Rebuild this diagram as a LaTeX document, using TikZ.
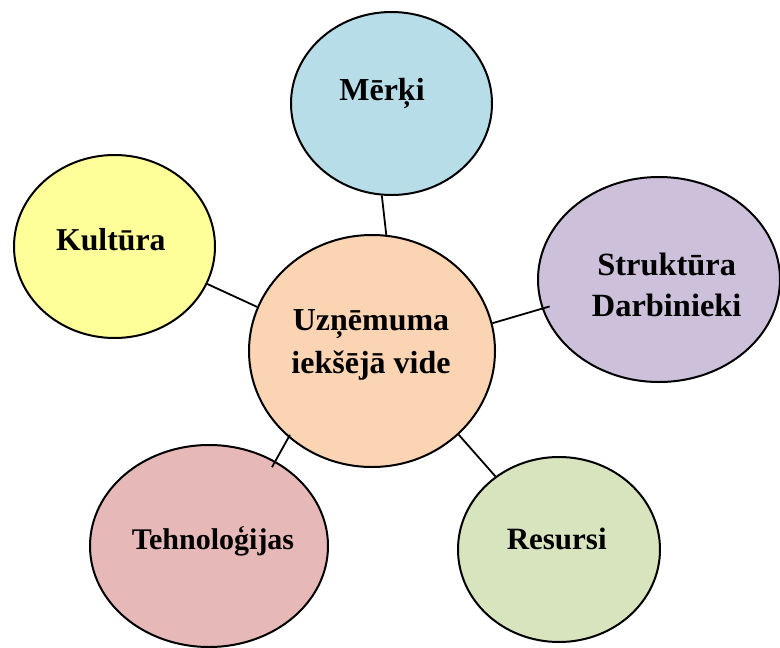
\documentclass[tikz,border=0pt]{standalone}
\usepackage{fontspec}
\setmainfont{Liberation Serif}
\usetikzlibrary{shapes.geometric}
\definecolor{cCenter}{HTML}{FBD4B4}
\definecolor{cMerki}{HTML}{B7DDE8}
\definecolor{cKult}{HTML}{FFFF99}
\definecolor{cStrukt}{HTML}{CCC0DA}
\definecolor{cTehn}{HTML}{E6B8B7}
\definecolor{cRes}{HTML}{D7E4BD}
\tikzset{
  blob/.style={ellipse, draw=black, line width=2pt, inner sep=0pt},
  lbl/.style={font=\bfseries\fontsize{32}{42}\selectfont, inner sep=0pt, anchor=base, align=center},
  link/.style={draw=black, line width=1.8pt}
}
\begin{document}
\begin{tikzpicture}[x=1pt,y=-1pt]
\useasboundingbox (0,0) rectangle (780,648);
% ellipses
\node[blob, fill=cMerki,  minimum width=201pt, minimum height=183pt] (M) at (391.5,103.5) {};
\node[blob, fill=cKult,   minimum width=201pt, minimum height=183pt] (K) at (114.5,246.5) {};
\node[blob, fill=cStrukt, minimum width=242pt, minimum height=205pt] (S) at (659,279.5) {};
\node[blob, fill=cTehn,   minimum width=238pt, minimum height=202pt] (T) at (209,546) {};
\node[blob, fill=cRes,    minimum width=202pt, minimum height=185pt] (R) at (559,549.5) {};
\node[blob, fill=cCenter, minimum width=246pt, minimum height=232pt] (C) at (372,351) {};
% connectors
\draw[link] (M.264.7) -- (C.83.6);
\draw[link] (K.338.6) -- (C.159.3);
\draw[link, shorten >=-8pt] (C.13.9) -- (S.194.7);
\draw[link, shorten <=-3pt, shorten >=-7pt] (C.226) -- (T.52.8);
\draw[link] (C.316.4) -- (R.131.8);
% labels
\node[lbl] (tM) at (382,100.7) {Mērķi};
\node[lbl, font=\bfseries\fontsize{31.8}{42}\selectfont] (tK) at (110.8,250.7) {Kultūra};
\node[lbl, font=\bfseries\fontsize{32.4}{41.5}\selectfont] (tS) at (666.7,316.7) {Struktūra\\Darbinieki};
\node[lbl, font=\bfseries\fontsize{30}{42}\selectfont] (tT) at (213,549) {Tehnoloģijas};
\node[lbl, font=\bfseries\fontsize{31}{42}\selectfont] (tR) at (556.7,549.3) {Resursi};
\node[lbl, font=\bfseries\fontsize{32}{43}\selectfont] (tC) at (371,373) {Uzņēmuma\\iekšējā vide};
\end{tikzpicture}
\end{document}
